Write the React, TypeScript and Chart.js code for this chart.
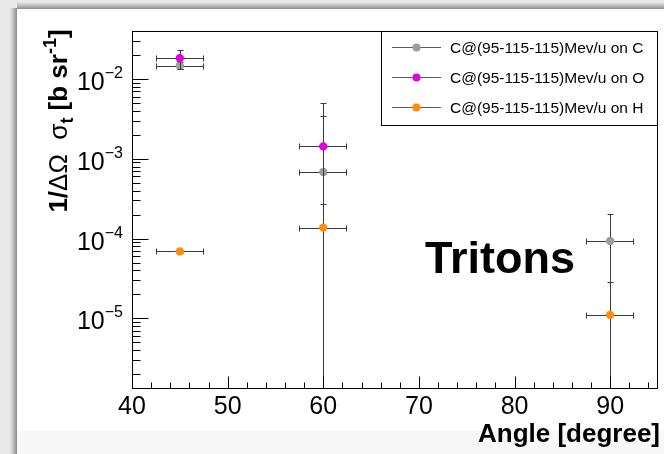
import React, { useEffect, useRef } from "react";
import { Chart, registerables } from "chart.js";

Chart.register(...registerables);

// ---------- data ----------
const seriesLabels = [
  "C@(95-115-115)Mev/u on C",
  "C@(95-115-115)Mev/u on O",
  "C@(95-115-115)Mev/u on H",
];
const seriesColors = ["#9c9c9c", "#e000e0", "#ff8c0a"];

const xC = [45, 60, 90];
const yC = [1.47e-2, 6.83e-4, 9.3e-5];
const xErrC = [2.5, 2.5, 2.5];
const yErrC = [1.5e-3, 2.76e-3, 1.08e-4];

const xO = [45, 60];
const yO = [1.82e-2, 1.43e-3];
const xErrO = [2.5, 2.5];
const yErrO = [4.9e-3, 3.63e-3];

const xH = [45, 60, 90];
const yH = [6.9e-5, 1.37e-4, 1.1e-5];
const xErrH = [2.5, 2.5, 2.5];
const yErrH = [3e-6, 1.37e-4, 1.78e-5];

const xTickLabels = [40, 50, 60, 70, 80, 90];
const yTickExponents = [-5, -4, -3, -2];
const xMin = 40;
const xMax = 95;
const yMin = 1.3e-6;
const yMax = 4.0e-2;

const xTitle = "Angle [degree]";
const annotation = "Tritons";

const FONT = '"Liberation Sans", Arial, Helvetica, sans-serif';

function makePts(xs: number[], ys: number[]) {
  return xs.map((x, i) => ({ x, y: ys[i] }));
}

const rootPlugin = {
  id: "rootStyle",
  beforeDraw(chart: any) {
    const ctx = chart.ctx;
    const W = chart.width;
    const H = chart.height;
    ctx.save();
    ctx.fillStyle = "#e9e9e9";
    ctx.fillRect(0, 0, W, H);
    let g = ctx.createLinearGradient(10, 0, 17, 0);
    g.addColorStop(0, "rgba(150,150,150,0)");
    g.addColorStop(1, "rgba(140,140,140,1)");
    ctx.fillStyle = g;
    ctx.fillRect(10, 8, 7, H - 8);
    g = ctx.createLinearGradient(0, 2, 0, 9);
    g.addColorStop(0, "rgba(150,150,150,0)");
    g.addColorStop(1, "rgba(140,140,140,1)");
    ctx.fillStyle = g;
    ctx.fillRect(17, 2, W - 17, 7);
    ctx.fillStyle = "#ffffff";
    ctx.fillRect(17, 9, W - 17, 422);
    ctx.fillStyle = "#f7f7f7";
    ctx.fillRect(17, 431, W - 17, H - 431);
    ctx.restore();
  },
  beforeDatasetDraw(chart: any, args: any) {
    const ds = chart.data.datasets[args.index];
    const xs = chart.scales.x;
    const ys = chart.scales.y;
    const a = chart.chartArea;
    const ctx = chart.ctx;
    ctx.save();
    ctx.beginPath();
    ctx.rect(a.left, a.top, a.right - a.left, a.bottom - a.top);
    ctx.clip();
    ctx.strokeStyle = "#3c3c3c";
    ctx.lineWidth = 1;
    ds.data.forEach((p: any, i: number) => {
      const ex = ds.errX[i];
      const ey = ds.errY[i];
      const px = Math.round(xs.getPixelForValue(p.x)) + 0.5;
      const py = Math.round(ys.getPixelForValue(p.y)) + 0.5;
      const x1 = xs.getPixelForValue(p.x - ex);
      const x2 = xs.getPixelForValue(p.x + ex);
      ctx.beginPath();
      ctx.moveTo(x1, py);
      ctx.lineTo(x2, py);
      ctx.moveTo(Math.round(x1) + 0.5, py - 3);
      ctx.lineTo(Math.round(x1) + 0.5, py + 3);
      ctx.moveTo(Math.round(x2) - 0.5, py - 3);
      ctx.lineTo(Math.round(x2) - 0.5, py + 3);
      const yTop = Math.round(ys.getPixelForValue(p.y + ey)) + 0.5;
      const low = p.y - ey;
      const yBot = low > 0 ? Math.round(ys.getPixelForValue(low)) + 0.5 : a.bottom;
      ctx.moveTo(px, yTop);
      ctx.lineTo(px, yBot);
      ctx.moveTo(px - 3, yTop);
      ctx.lineTo(px + 3, yTop);
      if (low > 0) {
        ctx.moveTo(px - 3, yBot);
        ctx.lineTo(px + 3, yBot);
      }
      ctx.stroke();
    });
    ctx.restore();
  },
  afterDatasetsDraw(chart: any) {
    const ctx = chart.ctx;
    const a = chart.chartArea;
    const xs = chart.scales.x;
    const ys = chart.scales.y;
    ctx.save();
    ctx.strokeStyle = "#000";
    ctx.lineWidth = 1;
    const L = a.left + 0.5;
    const B = a.bottom - 0.5;
    ctx.strokeRect(L, a.top + 0.5, a.right - a.left - 1, a.bottom - a.top - 1);

    ctx.beginPath();
    for (let e = -7; e <= -1; e++) {
      for (let m = 1; m <= 9; m++) {
        const v = m * Math.pow(10, e);
        if (v < yMin || v > yMax) continue;
        const y = Math.round(ys.getPixelForValue(v)) + 0.5;
        if (y < a.top + 2 || y > a.bottom - 2) continue;
        const len = m === 1 ? 16 : 8;
        ctx.moveTo(L, y);
        ctx.lineTo(L + len, y);
      }
    }
    for (let v = xMin; v <= xMax; v += 2) {
      const x = Math.round(xs.getPixelForValue(v)) + 0.5;
      if (x < a.left + 2 || x > a.right - 2) continue;
      const len = v % 10 === 0 ? 12 : 6;
      ctx.moveTo(x, B);
      ctx.lineTo(x, B - len);
    }
    ctx.stroke();

    ctx.fillStyle = "#000";
    ctx.font = `25px ${FONT}`;
    ctx.textAlign = "center";
    ctx.textBaseline = "alphabetic";
    xTickLabels.forEach((v) => {
      ctx.fillText(String(v), xs.getPixelForValue(v), 414);
    });

    yTickExponents.forEach((e) => {
      const y = ys.getPixelForValue(Math.pow(10, e));
      const expText = "\u2212" + Math.abs(e);
      ctx.font = `16px ${FONT}`;
      const ew = ctx.measureText(expText).width;
      const right = 123;
      ctx.textAlign = "left";
      ctx.fillText(expText, right - ew, y - 1);
      ctx.font = `25px ${FONT}`;
      ctx.textAlign = "right";
      ctx.fillText("10", right - ew, y + 11);
    });

    ctx.font = `bold 26px ${FONT}`;
    ctx.textAlign = "right";
    ctx.fillText(xTitle, 660, 441.5);

    const segs: { t: string; f: string; dy: number }[] = [
      { t: "1/", f: `bold 26px ${FONT}`, dy: 0 },
      { t: "\u0394\u03A9", f: `26px ${FONT}`, dy: 0 },
      { t: "  \u03C3", f: `26px ${FONT}`, dy: 0 },
      { t: "t", f: `bold 18px ${FONT}`, dy: 6 },
      { t: " [b sr", f: `bold 26px ${FONT}`, dy: 0 },
      { t: "-1", f: `bold 18px ${FONT}`, dy: -11 },
      { t: "]", f: `bold 26px ${FONT}`, dy: 0 },
    ];
    let total = 0;
    segs.forEach((s) => {
      ctx.font = s.f;
      total += ctx.measureText(s.t).width;
    });
    ctx.save();
    ctx.translate(67, 121);
    ctx.rotate(-Math.PI / 2);
    ctx.textAlign = "left";
    let cx = -total / 2;
    segs.forEach((s) => {
      ctx.font = s.f;
      ctx.fillText(s.t, cx, s.dy);
      cx += ctx.measureText(s.t).width;
    });
    ctx.restore();

    ctx.font = `bold 45px ${FONT}`;
    ctx.textAlign = "left";
    ctx.fillText(annotation, 425, 272.5);

    const lx = 381.5;
    const ly = 31.5;
    const lw = a.right - 0.5 - lx;
    const lh = 94;
    ctx.fillStyle = "#fff";
    ctx.fillRect(lx, ly, lw, lh);
    ctx.strokeStyle = "#000";
    ctx.strokeRect(lx, ly, lw, lh);
    chart.data.datasets.forEach((ds: any, i: number) => {
      const ry = 47.5 + i * 30;
      ctx.strokeStyle = "#5a5a5a";
      ctx.beginPath();
      ctx.moveTo(392, ry);
      ctx.lineTo(441, ry);
      ctx.stroke();
      ctx.fillStyle = ds.backgroundColor;
      ctx.beginPath();
      ctx.arc(416.5, ry, 4, 0, Math.PI * 2);
      ctx.fill();
      ctx.fillStyle = "#000";
      ctx.font = `15.5px ${FONT}`;
      ctx.textAlign = "left";
      ctx.textBaseline = "middle";
      ctx.fillText(ds.label, 450, ry + 1);
      ctx.textBaseline = "alphabetic";
    });
    ctx.restore();
  },
};

export default function App() {
  const ref = useRef<HTMLCanvasElement | null>(null);
  useEffect(() => {
    if (!ref.current) return;
    const mk = (i: number, xs: number[], ys: number[], ex: number[], ey: number[], order: number) => ({
      label: seriesLabels[i],
      data: makePts(xs, ys),
      errX: ex,
      errY: ey,
      backgroundColor: seriesColors[i],
      borderColor: seriesColors[i],
      pointBackgroundColor: seriesColors[i],
      pointBorderWidth: 0,
      pointRadius: 4.2,
      pointHoverRadius: 4.2,
      showLine: false,
      order,
    });
    const chart = new Chart(ref.current, {
      type: "scatter",
      data: {
        datasets: [
          mk(0, xC, yC, xErrC, yErrC, 2),
          mk(1, xO, yO, xErrO, yErrO, 1),
          mk(2, xH, yH, xErrH, yErrH, 0),
        ] as any,
      },
      options: {
        animation: false,
        responsive: false,
        devicePixelRatio: 1,
        events: [],
        layout: { padding: { top: 31, right: 6, left: 0, bottom: 0 } },
        plugins: { legend: { display: false }, tooltip: { enabled: false }, title: { display: false } },
        scales: {
          x: {
            type: "linear",
            min: xMin,
            max: xMax,
            ticks: { display: false },
            grid: { display: false },
            border: { display: false },
            afterFit: (s: any) => {
              s.height = 65;
            },
          },
          y: {
            type: "logarithmic",
            min: yMin,
            max: yMax,
            ticks: { display: false },
            grid: { display: false },
            border: { display: false },
            afterFit: (s: any) => {
              s.width = 132;
            },
          },
        },
      } as any,
      plugins: [rootPlugin as any],
    });
    return () => chart.destroy();
  }, []);
  return (
    <div style={{ position: "fixed", left: 0, top: 0, width: 664, height: 454 }}>
      <canvas ref={ref} width={664} height={454} style={{ display: "block" }} />
    </div>
  );
}
